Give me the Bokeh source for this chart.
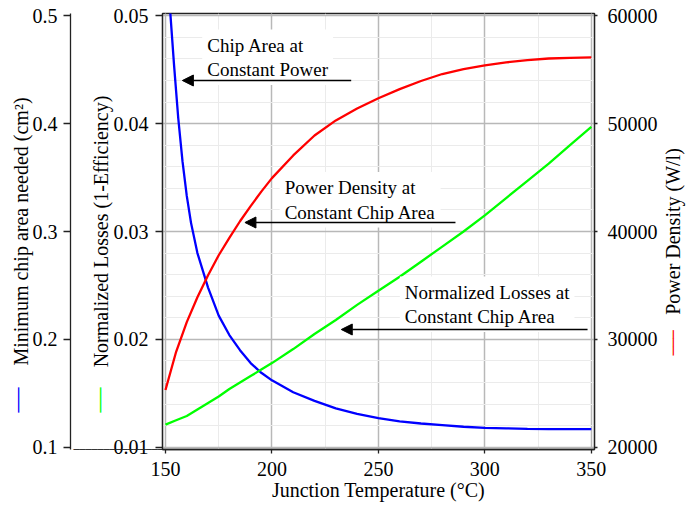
from bokeh.plotting import figure
from bokeh.layouts import row
from bokeh.models import Range1d, LinearAxis, SingleIntervalTicker, Label, Arrow, NormalHead, Title
from bokeh.embed import file_html
from bokeh.resources import INLINE

# ---------------- data ----------------
temp_area = [150, 152, 154, 156, 158, 160, 162, 165, 170, 175, 180, 185, 190, 195, 200,
             210, 220, 230, 240, 250, 260, 270, 280, 290, 300, 310, 320, 330, 340, 350]
chip_area = [0.57, 0.51, 0.455, 0.405, 0.365, 0.333, 0.308, 0.280, 0.248, 0.222, 0.204,
             0.190, 0.178, 0.169, 0.162, 0.151, 0.143, 0.136, 0.131, 0.127, 0.124, 0.122,
             0.1205, 0.119, 0.118, 0.1175, 0.117, 0.1168, 0.1167, 0.1167]

temp = [150, 155, 160, 165, 170, 175, 180, 185, 190, 195, 200, 210, 220, 230, 240, 250,
        260, 270, 280, 290, 300, 310, 320, 330, 340, 350]
power_density = [25300, 28850, 31600, 33900, 35950, 37800, 39400, 40950, 42350, 43700,
                 44950, 47050, 48900, 50300, 51400, 52350, 53200, 53950, 54600, 55050,
                 55400, 55680, 55880, 56040, 56100, 56140]
losses = [0.0121, 0.0125, 0.0129, 0.0135, 0.0141, 0.0147, 0.0154, 0.0160, 0.0166, 0.0172,
          0.0178, 0.0191, 0.0205, 0.0218, 0.0232, 0.0245, 0.0258, 0.0272, 0.0286, 0.0300,
          0.0315, 0.0331, 0.0347, 0.0363, 0.0380, 0.0397]

x_title = "Junction Temperature (°C)"
area_title = "Minimum chip area needed (cm²)"
loss_title = "Normalized Losses (1-Efficiency)"
power_title = "Power Density (W/l)"
notes = ["Chip Area at\nConstant Power",
         "Power Density at\nConstant Chip Area",
         "Normalized Losses at\nConstant Chip Area"]

# ---------------- layout constants (canvas pixels) ----------------
FONT = "Liberation Serif"
W_MAIN, W_SIDE, H = 660, 40, 506
FL, FR, FT, FB = 162, 597, 13, 449
X_LO, X_HI = 148.6, 351.5
Y_LO, Y_HI = 0.00979, 0.05021
TH20 = 22.5     # assumed text-box height of 20px text (for narrow title panels)
TH25 = 28.0     # assumed text-box height of 25px text
TH14M = 16.3    # assumed text-box height of 14px DejaVu Sans Mono text


def px_x(px):
    return X_LO + (px - FL) / (FR - FL) * (X_HI - X_LO)


def px_y(py):
    return Y_LO + (FB - py) / (FB - FT) * (Y_HI - Y_LO)


def vtitle(text, color="black", size=20, th=TH20, width=0.0, bottom=None, font=FONT):
    """A side-panel title of the given panel width (0 = overlay on the boundary).
    If bottom is given, the text starts that many pixels above the frame bottom."""
    if bottom is None:
        return Title(text=text, align="center", vertical_align="middle",
                     standoff=width - 2 - th, text_font=font, text_font_size=f"{size}px",
                     text_font_style="normal", text_color=color)
    return Title(text=text, align="left", vertical_align="middle", offset=bottom,
                 standoff=width - 2 - th, text_font=font, text_font_size=f"{size}px",
                 text_font_style="normal", text_color=color)


p = figure(width=W_MAIN, height=H, output_backend="svg", toolbar_location=None,
           x_range=Range1d(X_LO, X_HI), y_range=Range1d(Y_LO, Y_HI),
           min_border_left=FL, min_border_right=W_MAIN - FR,
           min_border_top=FT, min_border_bottom=H - FB,
           background_fill_color="white", border_fill_color="white")
p.outline_line_color = "#222222"
p.outline_line_width = 1.3

p.extra_y_ranges = {
    "area": Range1d(Y_LO * 10, Y_HI * 10),
    "power": Range1d(20000 + (Y_LO - 0.01) * 1e6, 20000 + (Y_HI - 0.01) * 1e6),
}

xt = SingleIntervalTicker(interval=50, num_minor_ticks=2)
yt = SingleIntervalTicker(interval=0.01, num_minor_ticks=5)
p.xaxis.ticker = xt
p.yaxis.ticker = yt
p.xgrid.ticker = xt
p.ygrid.ticker = yt

for g in (p.xgrid, p.ygrid):
    g.grid_line_color = "#b8b8b8"
    g.grid_line_width = 1.5
    g.minor_grid_line_color = "#ebebeb"
    g.minor_grid_line_width = 1


def style_axis(ax, tick_out, standoff):
    ax.axis_line_color = "#222222"
    ax.axis_line_width = 1.3
    ax.major_tick_line_color = "#222222"
    ax.major_tick_line_width = 1.3
    ax.major_tick_out = tick_out
    ax.major_tick_in = 0
    ax.minor_tick_line_color = None
    ax.major_label_standoff = standoff
    ax.major_label_text_font = FONT
    ax.major_label_text_font_size = "20px"
    ax.major_label_text_color = "black"
    ax.axis_label_text_font = FONT
    ax.axis_label_text_font_size = "20px"
    ax.axis_label_text_font_style = "normal"
    ax.axis_label_text_color = "black"


xax = p.xaxis[0]
style_axis(xax, 4, 8)
xax.axis_label = x_title
xax.axis_label_standoff = 0

# bottom axis line carried on to the outer left axis (zero-height title of line glyphs)
ext = Title(text="\u2500" * 15, align="left", vertical_align="middle", offset=-89,
            standoff=-2 - 11.6, text_font="DejaVu Sans Mono", text_font_size="10px",
            text_font_style="normal", text_color="#222222")
p.below.insert(0, ext)

# inner left axis: normalized losses
lax = p.yaxis[0]
style_axis(lax, 7, 7)

# left panel stack, from the frame outwards
p.add_layout(vtitle(" ", width=8), "left")
p.add_layout(vtitle(loss_title, width=4), "left")
p.add_layout(vtitle("\u2014", color="#00ff00", size=25, th=TH25, bottom=37), "left")
p.add_layout(vtitle(" ", width=28), "left")

aax = LinearAxis(y_range_name="area", ticker=SingleIntervalTicker(interval=0.1))
style_axis(aax, 7, 6)
p.add_layout(aax, "left")

p.add_layout(vtitle(" ", width=5), "left")
p.add_layout(vtitle(area_title, width=8), "left")
p.add_layout(vtitle("\u2014", color="#0000ff", size=25, th=TH25, bottom=37), "left")

# right axis: power density
rax = LinearAxis(y_range_name="power", ticker=SingleIntervalTicker(interval=10000))
style_axis(rax, 3, 9)
p.add_layout(rax, "right")

# curves
p.line(temp_area, chip_area, y_range_name="area", line_color="#0000ff", line_width=2.3)
p.line(temp, losses, line_color="#00ff00", line_width=2.3)
p.line(temp, power_density, y_range_name="power", line_color="#ff0000", line_width=2.3)

# annotations
PAD = 5
for text, tx, ty, ax0, ax1, ay in ((notes[0], 207, 34, 352, 182, 80),
                                    (notes[1], 285, 176.5, 457, 245, 222),
                                    (notes[2], 406, 281, 590, 342, 329)):
    p.add_layout(Label(x=px_x(tx - PAD), y=px_y(ty - PAD), text=text, text_align="left",
                       text_baseline="top", text_font=FONT, text_font_size="19px",
                       text_color="black", text_line_height=1.17,
                       background_fill_color="white", padding=PAD))
    p.add_layout(Arrow(end=NormalHead(size=11, fill_color="black", line_color="black"),
                       x_start=px_x(ax0), y_start=px_y(ay), x_end=px_x(ax1), y_end=px_y(ay),
                       line_color="black", line_width=1.5))

# right-hand strip carrying the power-density title and its colour key
side = figure(width=W_SIDE, height=H, output_backend="svg", toolbar_location=None,
              x_axis_type=None, y_axis_type=None,
              x_range=Range1d(0, 1), y_range=Range1d(0, 1),
              min_border_left=13, min_border_right=0,
              min_border_top=FT, min_border_bottom=H - FB,
              background_fill_color="white", border_fill_color="white")
side.outline_line_color = None
side.add_layout(vtitle(power_title, width=1), "left")
side.add_layout(vtitle("\u2500" * 3, color="#ff0000", size=14, th=TH14M, bottom=94,
                       font="DejaVu Sans Mono"), "left")

open("out.html", "w").write(file_html(row(p, side), INLINE))
